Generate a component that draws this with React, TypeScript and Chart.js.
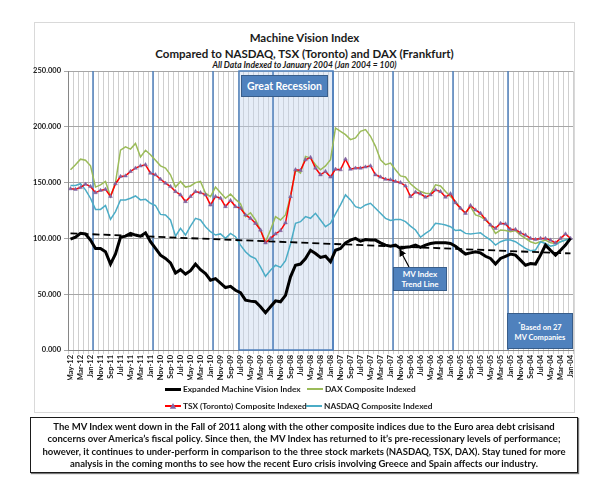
import React, { useEffect, useRef } from "react";
import { Chart, registerables } from "chart.js";

Chart.register(...registerables);

const FONT = "Lato, 'Open Sans', 'Liberation Sans', sans-serif";

const months = [
  "May-12", "Apr-12", "Mar-12", "Feb-12", "Jan-12",
  "Dec-11", "Nov-11", "Oct-11", "Sep-11", "Aug-11", "Jul-11", "Jun-11", "May-11", "Apr-11", "Mar-11", "Feb-11", "Jan-11",
  "Dec-10", "Nov-10", "Oct-10", "Sep-10", "Aug-10", "Jul-10", "Jun-10", "May-10", "Apr-10", "Mar-10", "Feb-10", "Jan-10",
  "Dec-09", "Nov-09", "Oct-09", "Sep-09", "Aug-09", "Jul-09", "Jun-09", "May-09", "Apr-09", "Mar-09", "Feb-09", "Jan-09",
  "Dec-08", "Nov-08", "Oct-08", "Sep-08", "Aug-08", "Jul-08", "Jun-08", "May-08", "Apr-08", "Mar-08", "Feb-08", "Jan-08",
  "Dec-07", "Nov-07", "Oct-07", "Sep-07", "Aug-07", "Jul-07", "Jun-07", "May-07", "Apr-07", "Mar-07", "Feb-07", "Jan-07",
  "Dec-06", "Nov-06", "Oct-06", "Sep-06", "Aug-06", "Jul-06", "Jun-06", "May-06", "Apr-06", "Mar-06", "Feb-06", "Jan-06",
  "Dec-05", "Nov-05", "Oct-05", "Sep-05", "Aug-05", "Jul-05", "Jun-05", "May-05", "Apr-05", "Mar-05", "Feb-05", "Jan-05",
  "Dec-04", "Nov-04", "Oct-04", "Sep-04", "Aug-04", "Jul-04", "Jun-04", "May-04", "Apr-04", "Mar-04", "Feb-04", "Jan-04",
];

const mvIndex = [
  99.4, 101, 104.5, 104, 98.5, 91, 91, 88, 77, 86, 101, 102, 104.5, 103, 102, 105, 97, 91, 85, 82, 78, 69, 72, 68, 71, 77,
  72, 68.5, 62.5, 64, 60, 56, 57, 53.5, 51.3, 44.7, 43.8, 43.2, 38.8, 33.4, 38.8, 44, 43.2, 49, 65.6, 76,
  77, 82, 89.4, 86.5, 83, 84, 79, 89.4, 91, 96, 98.4, 100, 97.5, 99, 98.5, 98.5, 96, 94, 93, 94,
  91, 92, 92.5, 94, 92, 94, 95.4, 96, 96, 96, 95.4, 93, 89.4, 86, 87, 88, 87, 84, 82, 77,
  82, 84, 86, 85, 80.5, 76, 77.5, 77, 85, 94, 89.4, 85, 89.4, 94, 100,
];

const daxIndex = [
  161.5, 166, 171, 170, 165, 146, 148, 151, 137.6, 150, 179, 182, 180, 185, 173, 179, 175, 170, 165, 163, 157, 146, 151, 146, 147, 150,
  151, 140.5, 137.5, 146, 141, 136, 139.7, 135, 131, 119.5, 123, 116.5, 107.5, 97, 107.5, 119.5, 116.5, 121, 137.5, 161.5,
  158.5, 173.5, 172, 166, 161.5, 165, 170.5, 199, 196, 193, 188.5, 190, 196, 197.5, 191.5, 182.5, 170.5, 166, 167.5, 161.5,
  156, 155, 149, 145, 142, 140.5, 140, 148, 147, 142, 137.5, 133, 127, 123, 128.5, 121, 119.5, 116.5, 112, 104.5,
  107.5, 107, 106, 107, 103, 100, 97, 95.5, 97, 98.5, 96, 95.5, 97, 98.5, 100,
];

const tsxIndex = [
  144.5, 144, 145.6, 148.6, 146.5, 141, 143, 144, 137.6, 149, 155.5, 156, 160, 163, 165, 166, 158.5, 157, 153, 149.5, 146.5, 142, 139, 133, 137.6, 142,
  141, 139, 130, 137.5, 136, 128.5, 134, 128.5, 127, 121, 118, 113.5, 107.5, 96, 100, 104, 107, 114, 137.5, 161.5,
  161, 170.5, 172.6, 163, 157, 160, 155, 162, 161.5, 171, 162, 163, 163, 164, 165, 157, 155, 153, 152.5, 151,
  150, 147, 137.5, 141.5, 140, 137, 139, 143.5, 142, 137, 140, 132, 127, 122.5, 129.5, 125.5, 122.5, 117, 112, 109,
  113.5, 113, 108, 108, 105, 103, 100, 99, 100, 100, 98.5, 96, 100, 104, 100,
];

const nasdaqIndex = [
  147.4, 147.4, 149, 143.5, 136, 126, 126, 129.5, 117, 124, 134.5, 134.5, 136, 138, 134.5, 135, 131.5, 129.5, 121.5, 121, 116.5, 102, 109, 103, 111, 118,
  116.5, 110.5, 106, 103, 104, 100, 104.5, 101.5, 94, 88, 84, 82, 74.5, 66, 71.5, 76, 74, 80, 95, 113.5,
  115, 119.5, 118, 122.5, 116.5, 110.5, 113.5, 122, 130, 139, 134.5, 128.5, 127, 130, 131.5, 127, 122.5, 118, 116, 117,
  117, 115, 111, 107.5, 101, 104.5, 107.5, 113.5, 113, 112, 110.5, 107, 107.5, 104.5, 104, 104.5, 105, 101.5, 98.5, 94,
  97, 98.5, 98.5, 97, 94, 91, 89, 89.5, 97, 95.5, 93, 94, 97, 98.5, 100,
];

// MV index trend line: values at first (May-12) and last (Jan-04) category
const trendEnds = [104.5, 86.5];

const yMin = 0;
const yMax = 250;
const yStep = 50;

// category-boundary positions (index space) of the blue year separators and recession band
const yearBoundaries = [4.5, 16.5, 28.5, 40.5, 52.5, 64.5, 76.5, 87.5];
const recessionSpan = [33.7, 52.5];

const overlayPlugin = {
  id: "overlayPlugin",
  beforeDatasetsDraw(chart: any) {
    const { ctx, chartArea, scales } = chart;
    const x = scales.x;
    ctx.save();
    const l = x.getPixelForValue(recessionSpan[0]);
    const r = x.getPixelForValue(recessionSpan[1]);
    ctx.fillStyle = "rgba(196,212,236,0.42)";
    ctx.fillRect(l, chartArea.top, r - l, chartArea.bottom - chartArea.top);
    ctx.strokeStyle = "#4f81bd";
    ctx.lineWidth = 1.5;
    ctx.strokeRect(l, chartArea.top, r - l, chartArea.bottom - chartArea.top);
    for (const b of yearBoundaries) {
      const px = x.getPixelForValue(b);
      ctx.beginPath();
      ctx.moveTo(px, chartArea.top);
      ctx.lineTo(px, chartArea.bottom);
      ctx.stroke();
    }
    ctx.restore();
  },
};

function ChartCanvas() {
  const ref = useRef<HTMLCanvasElement | null>(null);
  useEffect(() => {
    if (!ref.current) return;
    const last = months.length - 1;
    const trend = months.map((_, i) => (i === 0 ? trendEnds[0] : i === last ? trendEnds[1] : null));
    const tickFont = { family: FONT, size: 7.5, weight: "bold" as const };
    const chart = new Chart(ref.current, {
      type: "line",
      data: {
        labels: months,
        datasets: [
          {
            label: "MV Index Trend Line",
            data: trend,
            borderColor: "#000000",
            borderWidth: 1.8,
            borderDash: [7, 4],
            pointRadius: 0,
            spanGaps: true,
            order: 0,
          },
          {
            label: "Expanded Machine Vision Index",
            data: mvIndex,
            borderColor: "#000000",
            borderWidth: 3,
            pointRadius: 0,
            order: 1,
          },
          {
            label: "TSX (Toronto) Composite Indexed",
            data: tsxIndex,
            borderColor: "#ff0000",
            borderWidth: 1.5,
            pointStyle: "triangle",
            pointRadius: 2.2,
            pointBackgroundColor: "#8064a2",
            pointBorderColor: "#8064a2",
            pointBorderWidth: 0.5,
            order: 2,
          },
          {
            label: "NASDAQ Composite Indexed",
            data: nasdaqIndex,
            borderColor: "#4bacc6",
            borderWidth: 1.5,
            pointRadius: 0,
            order: 3,
          },
          {
            label: "DAX Composite Indexed",
            data: daxIndex,
            borderColor: "#9bbb59",
            borderWidth: 1.5,
            pointRadius: 0,
            order: 4,
          },
        ],
      },
      options: {
        responsive: false,
        animation: false,
        devicePixelRatio: 1,
        layout: { padding: { left: 30, top: 71, right: 27, bottom: 108 } },
        elements: { line: { tension: 0 } },
        plugins: {
          legend: { display: false },
          title: { display: false },
          tooltip: { enabled: false },
        },
        scales: {
          x: {
            type: "category",
            offset: true,
            grid: { offset: true, color: "#cfcfcf", lineWidth: 1, tickLength: 4, drawTicks: true },
            border: { color: "#868686" },
            ticks: {
              autoSkip: false,
              maxRotation: 90,
              minRotation: 90,
              padding: 1,
              color: "#1a1a1a",
              font: tickFont,
              callback: (_v: any, i: number) => (i % 2 === 0 ? months[i] : ""),
            },
            afterFit: (s: any) => {
              s.height = 30;
            },
          },
          y: {
            min: yMin,
            max: yMax,
            grid: { color: "#a6a6a6", lineWidth: 1, tickLength: 4 },
            border: { color: "#868686" },
            ticks: {
              stepSize: yStep,
              padding: 3,
              color: "#1a1a1a",
              font: tickFont,
              callback: (v: any) => Number(v).toFixed(3),
            },
            afterFit: (s: any) => {
              s.width = 38;
            },
          },
        },
      },
      plugins: [overlayPlugin],
    });
    return () => chart.destroy();
  }, []);
  return (
    <canvas
      ref={ref}
      width={600}
      height={488}
      style={{ position: "absolute", left: 0, top: 0, width: 600, height: 488 }}
    />
  );
}

const boxStyle: React.CSSProperties = {
  position: "absolute",
  background: "#4f81bd",
  border: "1px solid #385d8a",
  color: "#ffffff",
  fontWeight: 700,
  textAlign: "center",
  boxSizing: "border-box",
  display: "flex",
  flexDirection: "column",
  justifyContent: "center",
  alignItems: "center",
  whiteSpace: "nowrap",
};

const legendText: React.CSSProperties = {
  position: "absolute",
  fontSize: 8.3,
  fontWeight: 700,
  color: "#1a1a1a",
  whiteSpace: "nowrap",
  lineHeight: "10px",
};

export default function App() {
  return (
    <div
      style={{
        position: "absolute",
        left: 0,
        top: 0,
        width: 600,
        height: 488,
        background: "#ffffff",
        fontFamily: FONT,
        overflow: "hidden",
      }}
    >
      <div
        style={{
          position: "absolute",
          left: 34,
          top: 22,
          width: 539,
          height: 389,
          border: "1px solid #d9d9d9",
        }}
      />
      {/* titles */}
      <div
        style={{
          position: "absolute",
          left: 34,
          width: 541,
          top: 30,
          textAlign: "center",
          fontWeight: 700,
          fontSize: 11.5,
          lineHeight: "16px",
          color: "#1a1a1a",
          whiteSpace: "nowrap",
        }}
      >
        <div>Machine Vision Index</div>
        <div>Compared to NASDAQ, TSX (Toronto) and DAX (Frankfurt)</div>
      </div>
      <div
        style={{
          position: "absolute",
          left: 34,
          width: 541,
          top: 60,
          textAlign: "center",
          fontWeight: 700,
          fontStyle: "italic",
          fontSize: 8.5,
          lineHeight: "11px",
          color: "#1a1a1a",
          whiteSpace: "nowrap",
        }}
      >
        All Data Indexed to January 2004 (Jan 2004 = 100)
      </div>

      <ChartCanvas />

      {/* annotations */}
      <div style={{ ...boxStyle, left: 241, top: 75, width: 87, height: 22, fontSize: 10.5 }}>
        Great Recession
      </div>
      <div style={{ ...boxStyle, left: 393, top: 267, width: 54, height: 24, fontSize: 8, lineHeight: "10px" }}>
        <div>MV Index</div>
        <div>Trend Line</div>
      </div>
      <svg
        width={600}
        height={488}
        style={{ position: "absolute", left: 0, top: 0, pointerEvents: "none" }}
      >
        <defs>
          <marker id="arr" markerWidth="6" markerHeight="6" refX="5" refY="3" orient="auto">
            <path d="M0,0 L6,3 L0,6 Z" fill="#000" />
          </marker>
        </defs>
        <line x1={409} y1={267} x2={400} y2={250} stroke="#000" strokeWidth={1.2} markerEnd="url(#arr)" />
      </svg>
      <div style={{ ...boxStyle, left: 507, top: 313, width: 66, height: 36, fontSize: 7.5, lineHeight: "10px" }}>
        <div>
          <sup style={{ fontSize: 5.5 }}>*</sup>Based on 27
        </div>
        <div>MV Companies</div>
      </div>

      {/* legend */}
      <div style={{ position: "absolute", left: 165, top: 387.5, width: 16, height: 3, background: "#000" }} />
      <div style={{ ...legendText, left: 183, top: 384 }}>Expanded Machine Vision Index</div>
      <div style={{ position: "absolute", left: 307, top: 388, width: 16, height: 2, background: "#9bbb59" }} />
      <div style={{ ...legendText, left: 325, top: 384 }}>DAX Composite Indexed</div>
      <div style={{ position: "absolute", left: 165, top: 404.5, width: 16, height: 2, background: "#ff0000" }} />
      <svg width={8} height={8} style={{ position: "absolute", left: 169, top: 401.5 }}>
        <path d="M4,1 L7.2,6.8 L0.8,6.8 Z" fill="#8064a2" />
      </svg>
      <div style={{ ...legendText, left: 183, top: 400.5 }}>TSX (Toronto) Composite Indexed</div>
      <div style={{ position: "absolute", left: 306, top: 404.5, width: 16, height: 2, background: "#4bacc6" }} />
      <div style={{ ...legendText, left: 324, top: 400.5 }}>NASDAQ Composite Indexed</div>

      {/* commentary box */}
      <div
        style={{
          position: "absolute",
          left: 30,
          top: 417,
          width: 548,
          height: 56,
          boxSizing: "border-box",
          border: "1.5px solid #1a1a1a",
          boxShadow: "1px 1px 1px #777",
          textAlign: "center",
          fontSize: 9.5,
          fontWeight: 700,
          lineHeight: "12.3px",
          color: "#111",
          paddingTop: 3,
          whiteSpace: "nowrap",
        }}
      >
        <div>The MV Index went down in the Fall of 2011 along with the other composite indices due to the Euro area debt crisisand</div>
        <div>concerns over America’s fiscal policy.  Since then, the MV Index has returned to it’s pre-recessionary levels of performance;</div>
        <div>however, it continues to under-perform in comparison to the three stock markets (NASDAQ, TSX, DAX).  Stay tuned for more</div>
        <div>analysis in the coming months to see how the recent Euro crisis involving Greece and Spain affects our industry.</div>
      </div>
    </div>
  );
}
